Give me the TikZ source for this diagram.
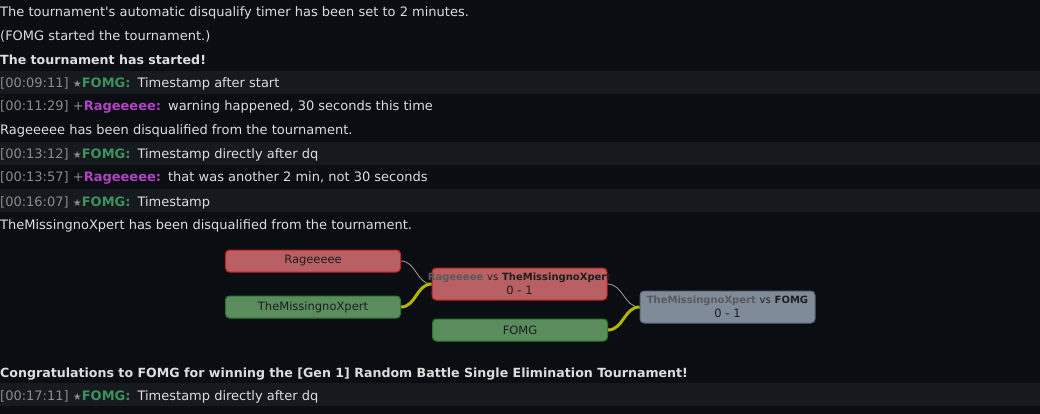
\documentclass[tikz,border=0pt]{standalone}
\usepackage{fontspec}
\setmainfont{DejaVu Sans}[Ligatures=TeXOff]
\usepackage{tikz}
\usetikzlibrary{positioning}
\definecolor{chatbg}{HTML}{0A0D12}
\definecolor{bandbg}{HTML}{16191E}
\definecolor{chattext}{HTML}{DDDDDD}
\definecolor{stampgrey}{HTML}{8A8A8A}
\definecolor{fomggreen}{HTML}{3C915E}
\definecolor{ragepink}{HTML}{B342C4}
\definecolor{losefill}{HTML}{B86064}
\definecolor{losedraw}{HTML}{C81E1E}
\definecolor{winfill}{HTML}{5A8C5E}
\definecolor{windraw}{HTML}{2A7A2A}
\definecolor{finalfill}{HTML}{808B99}
\definecolor{finaldraw}{HTML}{5C6470}
\definecolor{nodetext}{HTML}{1E1E1E}
\definecolor{losername}{HTML}{5A5A5A}
\definecolor{wiregrey}{HTML}{A0A0A0}
\definecolor{wireyellow}{HTML}{B4B400}

\newcommand{\stamp}[1]{{\color{stampgrey}[#1]}}
\newcommand{\byfomg}{{\color{stampgrey}\fontsize{10}{12}\selectfont★}{\bfseries\color{fomggreen}FOMG:}\hspace{7pt}}
\newcommand{\byrage}{{\color{stampgrey}+}{\bfseries\color{ragepink}Rageeeee:}\hspace{7pt}}
\newcommand{\boldline}{\fontsize{12.6}{15}\selectfont\bfseries}
\newcommand{\pairing}[2]{\makebox[0pt]{\fontsize{10}{12}\selectfont{\bfseries\color{losername}#1} vs \textbf{#2}}}

\begin{document}
\begin{tikzpicture}[x=1pt,y=-1pt,
  chatline/.style={anchor=base west,inner sep=0pt,text=chattext,
    font=\fontsize{13}{15}\selectfont},
  player/.style={draw,rounded corners=4pt,line width=1pt,inner sep=0pt,
    minimum width=175pt,minimum height=22pt,text=nodetext,
    font=\fontsize{11.5}{14}\selectfont},
  lost/.style={player,fill=losefill,draw=losedraw},
  won/.style={player,fill=winfill,draw=windraw},
  match/.style={player,minimum height=32pt,align=center,text width=175pt},
  wirelose/.style={wiregrey,line width=0.8pt},
  wirewin/.style={wireyellow,line width=3pt}]

  \fill[chatbg] (0,0) rectangle (1040,414);
  \foreach \y in {71,142,189,383} {
    \fill[bandbg] (0,\y) rectangle (1040,\y+23);
  }

  \node[chatline] (l1) at (0,17) {The tournament's automatic disqualify timer has been set to 2 minutes.};
  \node[chatline] (l2) at (0,41) {(FOMG started the tournament.)};
  \node[chatline] (l3) at (0,65) {\boldline The tournament has started!};
  \node[chatline] (l4) at (0,88) {\stamp{00:09:11} \byfomg Timestamp after start};
  \node[chatline] (l5) at (0,111) {\stamp{00:11:29} \byrage warning happened, 30 seconds this time};
  \node[chatline] (l6) at (0,135) {Rageeeee has been disqualified from the tournament.};
  \node[chatline] (l7) at (0,159) {\stamp{00:13:12} \byfomg Timestamp directly after dq};
  \node[chatline] (l8) at (0,182) {\stamp{00:13:57} \byrage that was another 2 min, not 30 seconds};
  \node[chatline] (l9) at (0,206) {\stamp{00:16:07} \byfomg Timestamp};
  \node[chatline] (l10) at (0,229) {TheMissingnoXpert has been disqualified from the tournament.};
  \node[chatline] (l11) at (0,377) {\boldline Congratulations to FOMG for winning the [Gen 1] Random Battle Single Elimination Tournament!};
  \node[chatline] (l12) at (0,400) {\stamp{00:17:11} \byfomg Timestamp directly after dq};

  \node[lost] (rage) at (313,261) {Rageeeee};
  \node[won] (missingno) at (313,307) {TheMissingnoXpert};
  \node[won] (fomg) at (520,330) {FOMG};
  \node[match,fill=losefill,draw=losedraw] (match1) at (519.5,284)
    {\pairing{Rageeeee}{TheMissingnoXpert}\\0 - 1};
  \node[match,fill=finalfill,draw=finaldraw] (final) at (727.5,307)
    {\pairing{TheMissingnoXpert}{FOMG}\\0 - 1};

  \draw[wirelose] (rage.east) to[out=0,in=180] (match1.west);
  \draw[wirewin] (missingno.east) to[out=0,in=180] (match1.west);
  \draw[wirelose] (match1.east) to[out=0,in=180] (final.west);
  \draw[wirewin] (fomg.east) to[out=0,in=180] (final.west);

\end{tikzpicture}
\end{document}
